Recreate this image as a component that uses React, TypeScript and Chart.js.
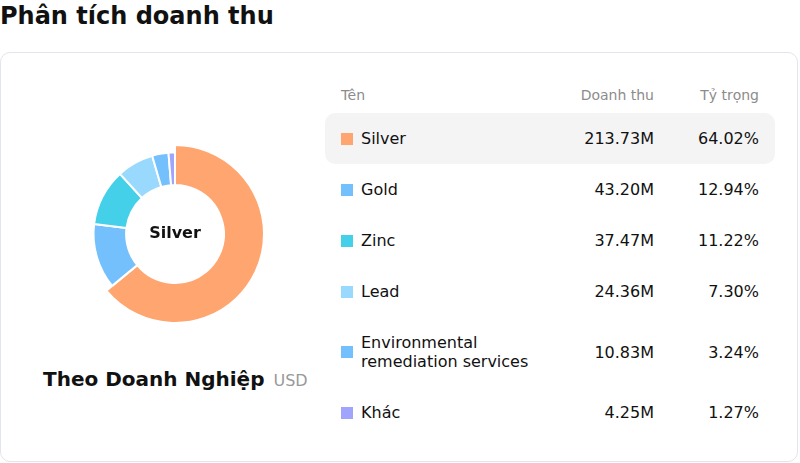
import { Chart, registerables } from "chart.js";
import React, { useEffect, useRef } from "react";

Chart.register(...registerables);

// revenue by business segment (USD, millions)
const categories = ["Silver", "Gold", "Zinc", "Lead", "Environmental remediation services", "Khác"];
const revenueMillions = [213.73, 43.2, 37.47, 24.36, 10.83, 4.25];
const sliceColors = ["#ffa570", "#74c0fc", "#44d0e8", "#99d9fd", "#74c0fc", "#a0a4fc"];
const activeIndex = 0;

const total = revenueMillions.reduce((a, b) => a + b, 0);
const shares = revenueMillions.map((v) => ((v / total) * 100).toFixed(2) + "%");

const FONT = "'DejaVu Sans', sans-serif";

// make the selected slice stick out a bit
const activeGrow = {
  id: "activeGrow",
  afterDatasetsUpdate(chart: any) {
    const arc: any = chart.getDatasetMeta(0).data[activeIndex];
    if (arc) arc.outerRadius += 7.5;
  },
};

const RevenueDonut: React.FC = () => {
  const chartRef = useRef<HTMLCanvasElement>(null);

  useEffect(() => {
    let chartInstance: Chart | null = null;
    if (chartRef.current) {
      chartInstance = new Chart(chartRef.current, {
        type: "doughnut",
        data: {
          labels: categories,
          datasets: [
            {
              data: revenueMillions,
              backgroundColor: sliceColors,
              borderColor: "#ffffff",
              borderWidth: 2,
              hoverOffset: 0,
            },
          ],
        },
        options: {
          animation: false,
          responsive: false,
          events: [],
          radius: 81.5,
          cutout: "60%",
          plugins: {
            legend: { display: false },
            tooltip: { enabled: false },
          },
        },
        plugins: [activeGrow],
      });
    }
    return () => {
      if (chartInstance) chartInstance.destroy();
    };
  }, []);

  return <canvas ref={chartRef} width={200} height={200} style={{ width: 200, height: 200 }} />;
};

const App: React.FC = () => {
  return (
    <div
      style={{
        position: "absolute",
        left: 0,
        top: 0,
        width: 800,
        height: 463,
        fontFamily: FONT,
        color: "#111",
        overflow: "hidden",
      }}
    >
      <div style={{ position: "absolute", left: 0, top: 2, fontSize: 24, fontWeight: "bold", lineHeight: "28px" }}>
        Phân tích doanh thu
      </div>

      <div
        style={{
          position: "absolute",
          left: 0,
          top: 52,
          width: 798,
          height: 410,
          boxSizing: "border-box",
          border: "1px solid #e4e4ee",
          borderRadius: 10,
        }}
      />

      <div style={{ position: "absolute", left: 75, top: 134, width: 200, height: 200 }}>
        <RevenueDonut />
        <div
          style={{
            position: "absolute",
            inset: 0,
            display: "flex",
            alignItems: "center",
            justifyContent: "center",
            fontSize: 16,
            fontWeight: "bold",
            marginTop: -3,
            pointerEvents: "none",
          }}
        >
          {categories[activeIndex]}
        </div>
      </div>

      <div style={{ position: "absolute", left: 43, top: 367, lineHeight: "24px", whiteSpace: "nowrap" }}>
        <span style={{ fontSize: 20, fontWeight: "bold" }}>Theo Doanh Nghiệp</span>
        <span style={{ fontSize: 16, color: "#999", marginLeft: 9 }}>USD</span>
      </div>

      {/* table header */}
      <div
        style={{
          position: "absolute",
          left: 341,
          top: 87,
          width: 418,
          display: "flex",
          fontSize: 14,
          lineHeight: "17px",
          color: "#8c8c8c",
        }}
      >
        <div style={{ width: 200 }}>Tên</div>
        <div style={{ width: 113, textAlign: "right" }}>Doanh thu</div>
        <div style={{ width: 105, textAlign: "right" }}>Tỷ trọng</div>
      </div>

      {/* table rows */}
      <div style={{ position: "absolute", left: 325, top: 113, width: 450 }}>
        {categories.map((name, i) => (
          <div
            key={name}
            style={{
              display: "flex",
              alignItems: "center",
              padding: "16px 16px",
              fontSize: 16,
              lineHeight: "19px",
              borderRadius: 10,
              background: i === activeIndex ? "#f4f4f5" : "transparent",
            }}
          >
            <div style={{ width: 200, display: "flex", alignItems: "center" }}>
              <span style={{ width: 12, height: 12, background: sliceColors[i], flex: "none", marginRight: 8 }} />
              <span style={{ width: 170 }}>{name}</span>
            </div>
            <div style={{ width: 113, textAlign: "right" }}>{revenueMillions[i].toFixed(2)}M</div>
            <div style={{ width: 105, textAlign: "right" }}>{shares[i]}</div>
          </div>
        ))}
      </div>
    </div>
  );
};

export default App;
